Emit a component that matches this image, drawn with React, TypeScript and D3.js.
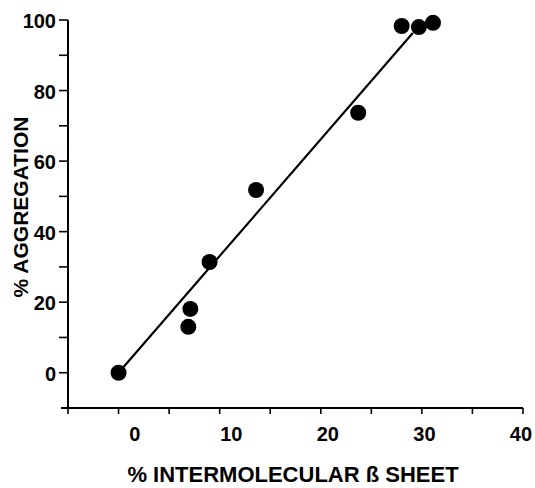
import React from "react";
import * as d3 from "d3";

// % intermolecular beta sheet vs % aggregation
const betaSheet = [0, 7.1, 6.9, 9.0, 13.6, 23.7, 28.0, 29.7, 31.1];
const aggregation = [0, 18.1, 13.0, 31.4, 51.8, 73.7, 98.3, 98.0, 99.2];
const fitLine = [
  [0, 0],
  [29.1, 96.3],
];
const xTickValues = [-5, 0, 5, 10, 15, 20, 25, 30, 35, 40];
const xTickLabels = [0, 10, 20, 30, 40];
const yTickValues = [0, 10, 20, 30, 40, 50, 60, 70, 80, 90, 100];
const yTickLabels = [0, 20, 40, 60, 80, 100];

const W = 535;
const H = 488;
const font = "'Liberation Sans', Arial, sans-serif";

export default function App() {
  const x = d3.scaleLinear().domain([-5, 40]).range([68, 523]);
  const y = d3.scaleLinear().domain([-10, 100]).range([408, 20]);
  // the printed x labels sit a little off their ticks in the original figure
  const xLabel = d3.scaleLinear().domain([0, 40]).range([x(1.6), x(39.8)]);

  const line = d3
    .line<number[]>()
    .x((d) => x(d[0]))
    .y((d) => y(d[1]));

  const points = betaSheet.map((b, i) => ({ b, a: aggregation[i] }));

  return (
    <svg
      width={W}
      height={H}
      style={{ position: "absolute", left: 0, top: 0, background: "#fff" }}
      fontFamily={font}
    >
      {/* axes */}
      <line x1={x(-5)} x2={x(-5)} y1={y(100)} y2={y(-10)} stroke="#000" strokeWidth={2} />
      <line x1={x(-5) - 7} x2={x(40)} y1={y(-10)} y2={y(-10)} stroke="#000" strokeWidth={2} />

      {yTickValues.map((v) => (
        <line key={"yt" + v} x1={x(-5) - 9} x2={x(-5)} y1={y(v)} y2={y(v)} stroke="#000" strokeWidth={1.6} />
      ))}
      {yTickLabels.map((v) => (
        <text
          key={"yl" + v}
          x={x(-5) - 12}
          y={y(v) + 3}
          textAnchor="end"
          dominantBaseline="middle"
          fontSize={20}
          fontWeight="bold"
        >
          {v}
        </text>
      ))}

      {xTickValues.map((v) => (
        <line key={"xt" + v} x1={x(v)} x2={x(v)} y1={y(-10)} y2={y(-10) + 6} stroke="#000" strokeWidth={1.6} />
      ))}
      {xTickLabels.map((v) => (
        <text key={"xl" + v} x={xLabel(v)} y={y(-10) + 33} textAnchor="middle" fontSize={20} fontWeight="bold">
          {v}
        </text>
      ))}

      <text x={293} y={482} textAnchor="middle" fontSize={22} fontWeight="bold">
        % INTERMOLECULAR ß SHEET
      </text>
      <text
        transform={`translate(28, 207) rotate(-90)`}
        textAnchor="middle"
        fontSize={21}
        fontWeight="bold"
      >
        % AGGREGATION
      </text>

      {/* regression line */}
      <path d={line(fitLine) || ""} fill="none" stroke="#000" strokeWidth={2.2} />

      {points.map((p, i) => (
        <circle key={i} cx={x(p.b)} cy={y(p.a)} r={8} fill="#000" />
      ))}
    </svg>
  );
}
